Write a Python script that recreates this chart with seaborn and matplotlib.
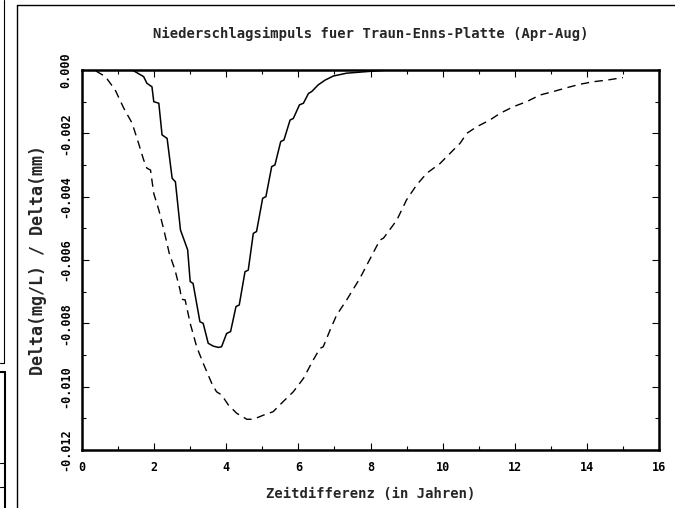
import numpy as np
import pandas as pd
import matplotlib
matplotlib.use("Agg")
import matplotlib.pyplot as plt
import seaborn as sns
from matplotlib.lines import Line2D
from matplotlib.ticker import MultipleLocator, FormatStrFormatter

# Werte
t_solid = [0.0, 0.5, 1.0, 1.39, 1.53, 1.71, 1.80, 1.94, 1.99, 2.13, 2.22, 2.36, 2.50, 2.59,
           2.73, 2.93, 3.0, 3.08, 3.27, 3.36, 3.50, 3.64, 3.78, 3.87, 4.01, 4.12, 4.27,
           4.36, 4.52, 4.61, 4.75, 4.84, 5.01, 5.10, 5.26, 5.35, 5.51, 5.60, 5.77, 5.86,
           6.03, 6.14, 6.28, 6.37, 6.55, 6.74, 6.97, 7.34, 7.9, 8.5, 10.0, 12.0, 15.0]
d_solid = [0.0, 0.0, 0.0, 0.0, -0.00009, -0.00021, -0.00042, -0.00053, -0.0010, -0.00105,
           -0.00205, -0.00216, -0.00342, -0.00353, -0.00505, -0.00568, -0.00668, -0.00674,
           -0.00795, -0.0080, -0.00863, -0.00872, -0.00876, -0.00874, -0.00832, -0.00826,
           -0.00747, -0.00742, -0.00637, -0.00632, -0.00516, -0.0051, -0.00405, -0.0040,
           -0.00305, -0.0030, -0.00226, -0.00221, -0.00158, -0.00153, -0.0011, -0.00105,
           -0.00074, -0.00068, -0.00047, -0.00032, -0.00019, -0.0001, -0.00005, 0.0, 0.0,
           0.0, 0.0]

t_dashed = [0.0, 0.37, 0.65, 0.92, 1.16, 1.39, 1.57, 1.71, 1.80, 1.90, 1.99, 2.13, 2.27,
            2.42, 2.58, 2.72, 2.76, 2.86, 3.0, 3.18, 3.36, 3.60, 3.73, 3.87, 4.06, 4.29,
            4.57, 4.75, 5.03, 5.30, 5.58, 5.86, 6.14, 6.41, 6.60, 6.69, 6.88, 7.06, 7.34,
            7.71, 8.26, 8.36, 8.73, 9.0, 9.28, 9.56, 9.93, 10.39, 10.48, 10.67, 10.95,
            11.31, 11.59, 11.96, 12.33, 12.70, 13.07, 13.44, 13.81, 14.18, 14.55, 15.0]
d_dashed = [0.0, -0.00002, -0.00021, -0.00063, -0.00121, -0.00168, -0.00232, -0.00284,
            -0.0031, -0.00316, -0.0039, -0.00442, -0.00505, -0.00579, -0.00632, -0.00695,
            -0.00724, -0.00726, -0.0080, -0.00874, -0.00926, -0.0099, -0.01016, -0.01026,
            -0.01058, -0.01084, -0.01103, -0.01103, -0.0109, -0.01079, -0.01047, -0.01016,
            -0.00974, -0.00916, -0.00879, -0.00874, -0.00821, -0.00774, -0.00726, -0.00657,
            -0.00537, -0.00531, -0.00474, -0.0041, -0.00363, -0.00326, -0.00295, -0.00242,
            -0.00232, -0.0020, -0.00179, -0.00158, -0.00137, -0.00116, -0.0010, -0.00079,
            -0.00068, -0.00056, -0.00045, -0.00037, -0.00032, -0.00024]

solid = pd.DataFrame({"t": t_solid, "d": d_solid})
dashed = pd.DataFrame({"t": t_dashed, "d": d_dashed})

sns.set_style("ticks")
plt.rcParams["font.family"] = ["DejaVu Sans Mono", "DejaVu Sans"]
plt.rcParams["font.weight"] = "bold"
plt.rcParams["axes.unicode_minus"] = False

fig = plt.figure(figsize=(6.75, 5.08), dpi=100)
ax = fig.add_axes([82 / 675, 1 - 450 / 508, (659 - 82) / 675, (450 - 70) / 508])

sns.lineplot(data=solid, x="t", y="d", ax=ax, color="black", linewidth=1.1)
sns.lineplot(data=dashed, x="t", y="d", ax=ax, color="black", linewidth=1.0,
             linestyle=(0, (6, 4)))

ax.set_xlim(0, 16)
ax.set_ylim(-0.012, 0.0)
ax.xaxis.set_major_locator(MultipleLocator(2))
ax.xaxis.set_minor_locator(MultipleLocator(1))
ax.yaxis.set_major_locator(MultipleLocator(0.002))
ax.yaxis.set_minor_locator(MultipleLocator(0.001))
ax.yaxis.set_major_formatter(FormatStrFormatter("%.3f"))
ax.xaxis.set_major_formatter(FormatStrFormatter("%d"))

ax.tick_params(which="both", direction="in", top=True, right=True, color="black",
               labelsize=8.5, labelcolor="black")
ax.tick_params(which="major", length=5, width=0.8)
ax.tick_params(which="minor", length=3, width=0.8)
ax.tick_params(axis="x", pad=8)
ax.tick_params(axis="y", pad=7)
for lab in ax.get_yticklabels():
    lab.set_rotation(90)
    lab.set_va("center")
for sp in ax.spines.values():
    sp.set_linewidth(1.8)
    sp.set_color("black")

ax.set_title("Niederschlagsimpuls fuer Traun-Enns-Platte (Apr-Aug)", fontsize=10,
             pad=23, fontweight="bold")
ax.set_xlabel("Zeitdifferenz (in Jahren)", fontsize=10, labelpad=9, fontweight="bold")
ax.set_ylabel("Delta(mg/L) / Delta(mm)", fontsize=12, labelpad=9, fontweight="bold")

# Rahmen und Reste der Nachbargrafik am linken Rand
def fl(x, y, lw=1.0):
    fig.add_artist(Line2D([v / 675 for v in x], [1 - v / 508 for v in y],
                          color="black", linewidth=lw))

fl([17, 17], [5, 508])
fl([17, 675], [5, 5])
fl([3.5, 3.5], [0, 363], 0.8)
fl([0, 3.5], [363, 363], 0.8)
fl([0, 5], [372, 372], 1.5)
fl([5, 5], [372, 508], 1.5)
fl([0, 5], [463, 463], 0.8)
fl([0, 5], [487, 487], 0.8)

fig.savefig("out.png", dpi=100)
